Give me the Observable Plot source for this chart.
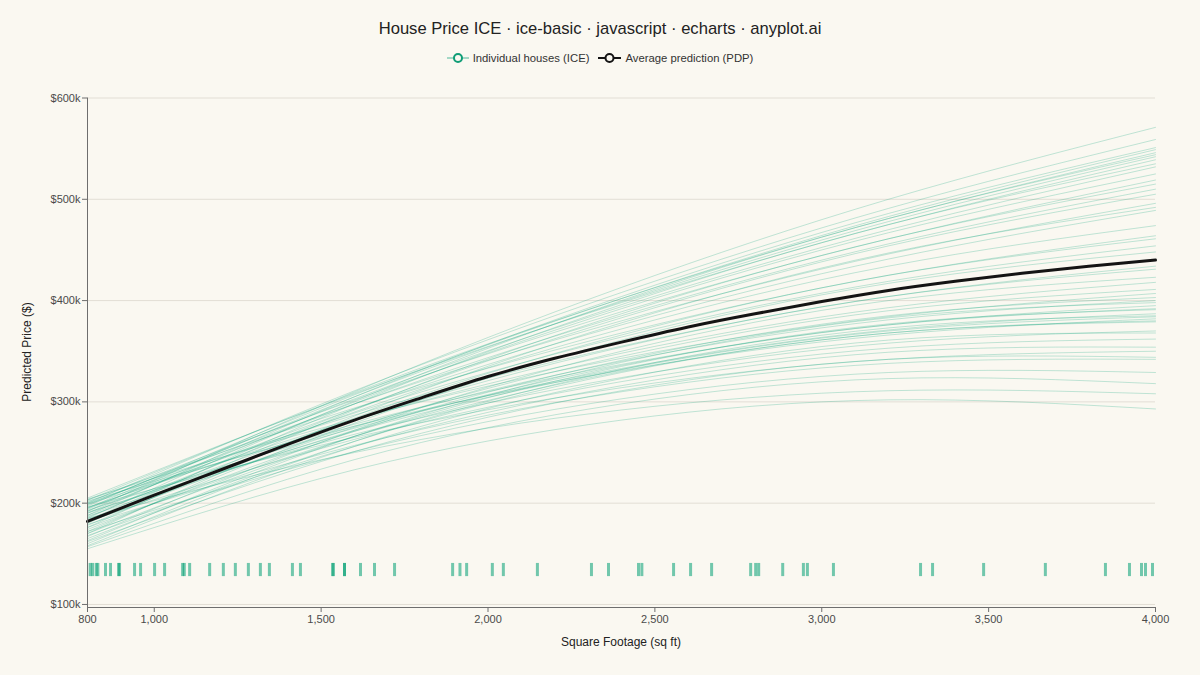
<!DOCTYPE html>
<html>
<head>
<meta charset="utf-8">
<script src="https://cdn.jsdelivr.net/npm/d3@7"></script>
<script src="https://cdn.jsdelivr.net/npm/@observablehq/plot@0.6"></script>
<style>
  html, body { margin: 0; padding: 0; background: #FAF8F1; }
  body { width: 1200px; height: 675px; position: relative; overflow: hidden; font-family: "Liberation Sans", Arial, sans-serif; }
  #title { position: absolute; top: 18px; left: 0; width: 1200px; text-align: center; font-size: 16.6px; color: #222; line-height: 22px; }
  #legend { position: absolute; top: 50px; left: 0; width: 1200px; display: flex; justify-content: center; align-items: center; font-size: 11.3px; color: #333; line-height: 16px; }
  #legend .item { display: flex; align-items: center; margin: 0 3px; }
  #legend svg { margin-right: 4px; }
  #chart { position: absolute; top: 80px; left: 0; }
  #xtitle { position: absolute; top: 635px; left: 521px; width: 200px; text-align: center; font-size: 12px; color: #222; }
  #ytitle { position: absolute; left: 27px; top: 352px; transform: translate(-50%, -50%) rotate(-90deg); font-size: 12px; color: #222; white-space: nowrap; }
</style>
</head>
<body>
<div id="title">House Price ICE · ice-basic · javascript · echarts · anyplot.ai</div>
<div id="legend">
  <div class="item">
    <svg width="22" height="12"><line x1="0" y1="6" x2="22" y2="6" stroke="#009E73" stroke-opacity="0.35" stroke-width="2"></line><circle cx="11" cy="6" r="4" fill="#FAF8F1" stroke="#0F9D76" stroke-width="2"></circle></svg>
    <span>Individual houses (ICE)</span>
  </div>
  <div class="item" style="margin-left:6px">
    <svg width="23" height="12"><line x1="0" y1="6" x2="23" y2="6" stroke="#141414" stroke-width="2"></line><circle cx="11.5" cy="6" r="4" fill="#FAF8F1" stroke="#141414" stroke-width="2"></circle></svg>
    <span>Average prediction (PDP)</span>
  </div>
</div>
<div id="chart"></div>
<div id="xtitle">Square Footage (sq ft)</div>
<div id="ytitle">Predicted Price ($)</div>
<script>
// ICE grid (square footage) and per-house predicted prices (in $k) at each grid point
const sqftGrid = [800, 1600, 2400, 3200, 4000];
const icePrices = [
  [192, 310, 413, 500, 571],
  [200, 311, 408, 491, 559],
  [188, 305, 404, 486, 551],
  [197, 307, 402, 483, 549],
  [203, 309, 402, 481, 546],
  [185, 301, 400, 481, 544],
  [195, 305, 399, 478, 542],
  [205, 308, 398, 475, 539],
  [180, 298, 396, 475, 535],
  [198, 303, 394, 470, 532],
  [190, 300, 392, 467, 525],
  [201, 302, 389, 461, 519],
  [176, 292, 387, 461, 515],
  [194, 298, 385, 456, 510],
  [183, 293, 383, 454, 505],
  [199, 298, 380, 446, 496],
  [170, 286, 378, 447, 492],
  [192, 293, 376, 441, 489],
  [186, 290, 372, 434, 474],
  [203, 294, 368, 425, 464],
  [178, 284, 366, 425, 461],
  [195, 289, 364, 419, 454],
  [172, 279, 361, 417, 448],
  [200, 287, 355, 404, 434],
  [188, 282, 354, 404, 431],
  [167, 272, 350, 400, 423],
  [196, 282, 348, 393, 418],
  [181, 275, 345, 390, 411],
  [204, 283, 343, 384, 407],
  [174, 271, 341, 385, 403],
  [190, 276, 340, 381, 400],
  [163, 266, 339, 383, 398],
  [199, 278, 337, 376, 395],
  [184, 272, 336, 376, 392],
  [170, 266, 335, 377, 391],
  [193, 274, 333, 371, 387],
  [160, 261, 332, 373, 385],
  [187, 271, 332, 370, 384],
  [202, 276, 331, 366, 382],
  [176, 266, 330, 368, 380],
  [165, 261, 329, 368, 379],
  [191, 268, 324, 358, 370],
  [158, 256, 323, 361, 368],
  [182, 263, 320, 353, 362],
  [168, 256, 316, 349, 354],
  [196, 265, 314, 342, 350],
  [162, 251, 311, 342, 344],
  [179, 257, 310, 338, 342],
  [172, 251, 303, 329, 329],
  [157, 243, 298, 323, 318],
  [185, 250, 292, 311, 308],
  [155, 233, 282, 302, 293]
];

// PDP (average prediction), $k
const pdpSqft = [800, 1000, 1200, 1400, 1600, 1800, 2000, 2200, 2400, 2600, 2800, 3000, 3200, 3400, 3600, 3800, 4000];
const pdpPrices = [182, 208, 233, 258, 282, 304, 325, 343, 359, 374, 387, 399, 410, 419, 427, 434, 440];

// Observed square footage of houses (rug)
const rugSqft = [808, 815, 826, 831, 854, 869, 893, 896, 941, 959, 1001, 1031, 1085, 1090, 1106, 1166, 1207, 1243, 1282, 1318, 1345, 1414, 1438, 1534, 1537, 1570, 1570, 1618, 1660, 1720, 1894, 1916, 1936, 2013, 2046, 2148, 2310, 2361, 2451, 2461, 2556, 2607, 2670, 2787, 2802, 2811, 2883, 2945, 2957, 3035, 3296, 3332, 3485, 3670, 3850, 3922, 3958, 3970, 3991];

// Axis ticks
const xTicks = [800, 1000, 1500, 2000, 2500, 3000, 3500, 4000];
const yTicks = [100000, 200000, 300000, 400000, 500000, 600000];

const iceData = icePrices.flatMap((row, house) =>
  row.map((v, i) => ({house, sqft: sqftGrid[i], price: v * 1000})));
const pdpData = pdpSqft.map((s, i) => ({sqft: s, price: pdpPrices[i] * 1000}));

const plot = Plot.plot({
  width: 1200,
  height: 595,
  marginLeft: 87,
  marginRight: 45,
  marginTop: 17.5,
  marginBottom: 68,
  style: {background: "transparent", fontFamily: "'Liberation Sans', Arial, sans-serif", fontSize: "11px", color: "#4a4a4a"},
  x: {domain: [800, 4000]},
  y: {domain: [97000, 600000]},
  marks: [
    Plot.gridY(yTicks, {stroke: "#E2DED5", strokeOpacity: 1}),
    Plot.line(iceData, {x: "sqft", y: "price", z: "house", stroke: "#009E73", strokeOpacity: 0.24, strokeWidth: 1, curve: "natural"}),
    Plot.ruleX(rugSqft, {y1: 127500, y2: 140500, stroke: "#009E73", strokeOpacity: 0.55, strokeWidth: 3}),
    Plot.line(pdpData, {x: "sqft", y: "price", stroke: "#141414", strokeWidth: 3, curve: "natural"}),
    Plot.ruleX([800], {stroke: "#6E6E6E", strokeWidth: 1}),
    Plot.ruleY([97000], {stroke: "#6E6E6E", strokeWidth: 1}),
    Plot.axisY({ticks: yTicks, tickFormat: d => "$" + d / 1000 + "k", tickSize: 5, tickPadding: 2, label: null, stroke: "#6E6E6E", fill: "#4a4a4a", fontSize: 11}),
    Plot.axisX({ticks: xTicks, tickFormat: d3.format(","), tickSize: 5, tickPadding: 3, label: null, stroke: "#6E6E6E", fill: "#4a4a4a", fontSize: 11})
  ]
});
document.getElementById("chart").appendChild(plot);
</script>
</body>
</html>
